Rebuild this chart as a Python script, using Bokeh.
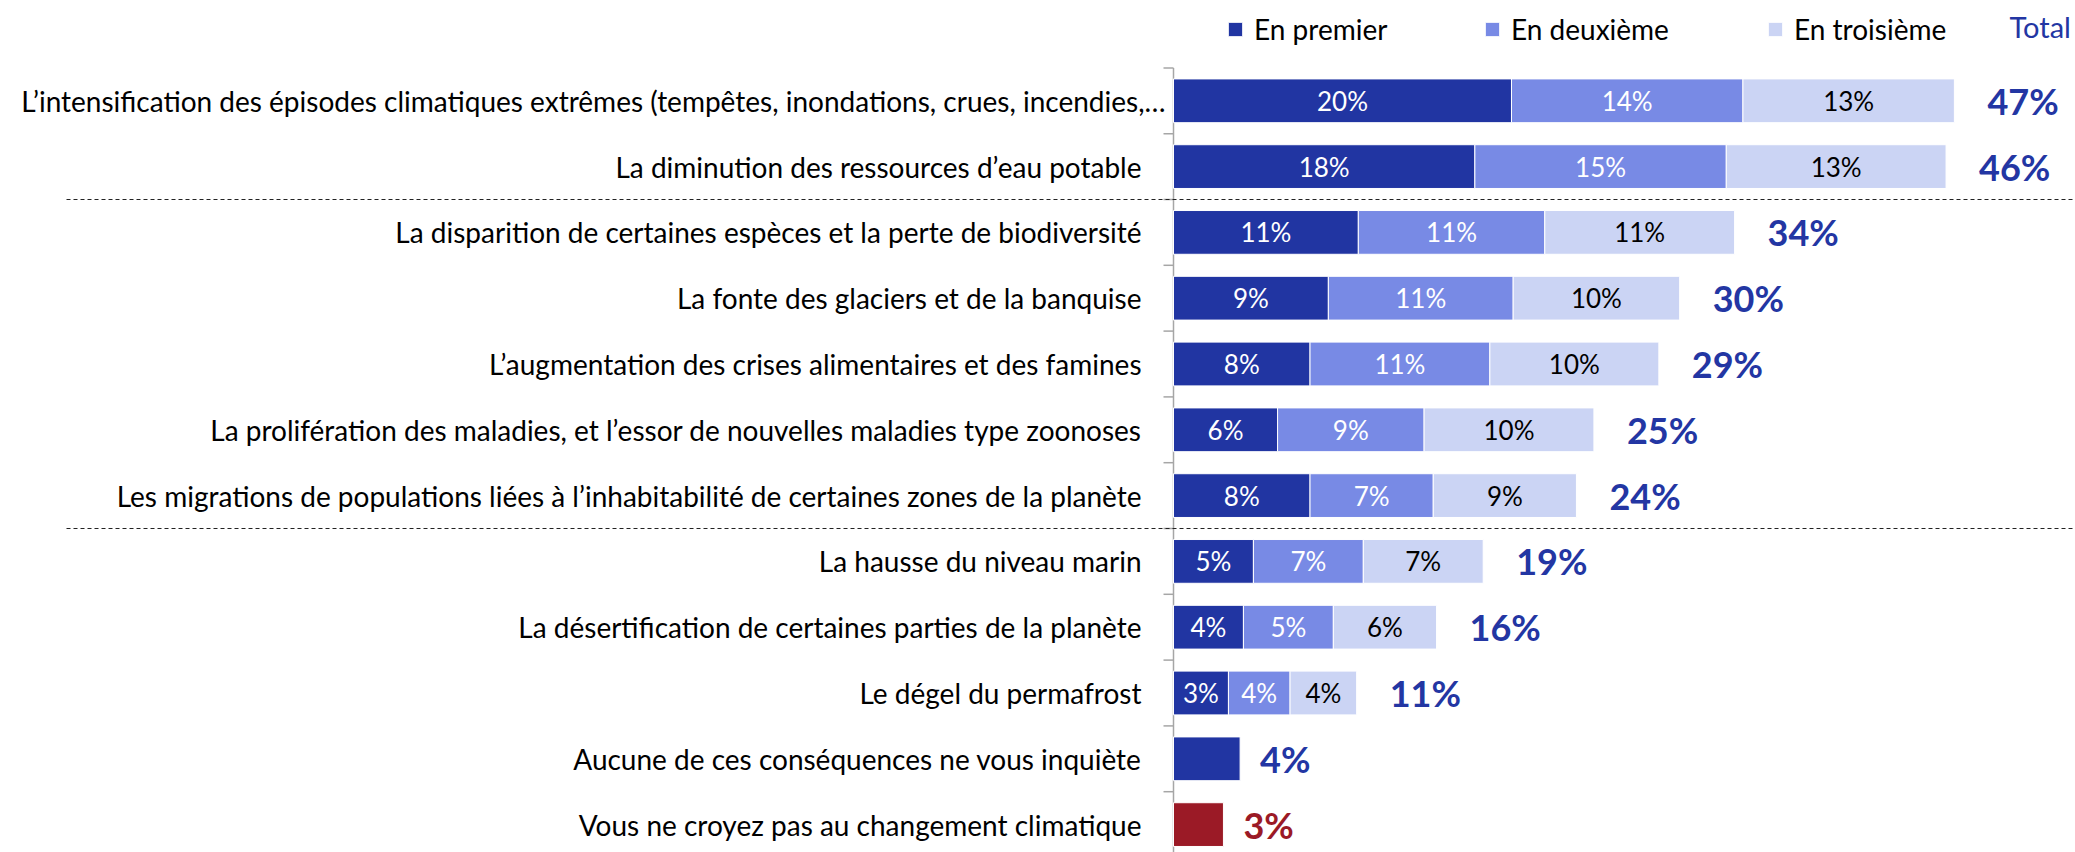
from bokeh.plotting import figure
from bokeh.models import Range1d, ColumnDataSource, Legend, LegendItem, Label
from bokeh.embed import file_html
from bokeh.resources import INLINE
from bokeh.core.properties import value

# ---------------- data ----------------
categories = [
    "L\u2019intensification des épisodes climatiques extrêmes (tempêtes, inondations, crues, incendies,\u2026",
    "La diminution des ressources d\u2019eau potable",
    "La disparition de certaines espèces et la perte de biodiversité",
    "La fonte des glaciers et de la banquise",
    "L\u2019augmentation des crises alimentaires et des famines",
    "La prolifération des maladies, et l\u2019essor de nouvelles maladies type zoonoses",
    "Les migrations de populations liées à l\u2019inhabitabilité de certaines zones de la planète",
    "La hausse du niveau marin",
    "La désertification de certaines parties de la planète",
    "Le dégel du permafrost",
    "Aucune de ces conséquences ne vous inquiète",
    "Vous ne croyez pas au changement climatique",
]
series_names = ["En premier", "En deuxième", "En troisième"]
first = [20.3, 18.1, 11.1, 9.3, 8.2, 6.25, 8.2, 4.8, 4.2, 3.3]
second = [13.9, 15.1, 11.2, 11.1, 10.8, 8.8, 7.4, 6.6, 5.4, 3.7]
third = [12.7, 13.2, 11.4, 10.0, 10.15, 10.2, 8.6, 7.2, 6.2, 4.0]
totals = [47, 46, 34, 30, 29, 25, 24, 19, 16, 11]
single_values = [4.0, 3.0]
single_labels = ["4%", "3%"]
separators_after = [1, 6]
total_title = "Total"

# ---------------- style / layout ----------------
FONT = "Lato"
C1, C2, C3 = "#2135A2", "#788AE5", "#CBD4F4"
RED = "#9B1A26"
TXT_BLUE = "#2336A3"
GREY = "#A6A6A6"

W, H = 2075, 852
AXIS_PX = 1173
PX_PER = 16.65
ROW0_PX = 100.3
ROW_STEP = 65.8
BAR_H = 0.665
LABEL_OFFSETS = [-8] + [-32] * 11

x_start = -AXIS_PX / PX_PER
x_end = (W - AXIS_PX) / PX_PER
y_top = -ROW0_PX / ROW_STEP
y_bottom = (H - ROW0_PX) / ROW_STEP

p = figure(width=W, height=H, x_range=Range1d(x_start, x_end),
           y_range=Range1d(y_bottom, y_top), output_backend="svg",
           toolbar_location=None, min_border=0,
           x_axis_location=None, y_axis_location=None)
p.xgrid.visible = False
p.ygrid.visible = False
p.outline_line_color = None

n = len(first)
ys = list(range(n))
e1 = first
e2 = [a + b for a, b in zip(first, second)]
e3 = [a + b + c for a, b, c in zip(first, second, third)]

# axis line and boundary ticks
ncat = len(categories)
bounds = [i - 0.5 for i in range(ncat + 1)]
p.segment(x0=0, y0=-0.5, x1=0, y1=ncat - 0.5, line_color=GREY, line_width=1.5)
p.segment(x0=[-10 / PX_PER] * len(bounds), x1=[0] * len(bounds), y0=bounds, y1=bounds,
          line_color=GREY, line_width=1.5)

# separators
sep_y = [i + 0.5 for i in separators_after]
p.segment(x0=[(66 - AXIS_PX) / PX_PER] * len(sep_y), x1=[x_end] * len(sep_y),
          y0=sep_y, y1=sep_y, line_color="#222222", line_width=1, line_dash="4 3")

src = ColumnDataSource(dict(y=ys, e1=e1, e2=e2, e3=e3))
r1 = p.hbar(y="y", left=0, right="e1", height=BAR_H, source=src,
            fill_color=C1, line_color="white", line_width=1)
r2 = p.hbar(y="y", left="e1", right="e2", height=BAR_H, source=src,
            fill_color=C2, line_color="white", line_width=1)
r3 = p.hbar(y="y", left="e2", right="e3", height=BAR_H, source=src,
            fill_color=C3, line_color="white", line_width=1)

sy = [n + i for i in range(len(single_values))]
p.hbar(y=sy, left=0, right=single_values, height=BAR_H,
       fill_color=[C1, RED], line_color="white", line_width=1)

# in-bar labels
for starts, vals, col in ((([0] * n), first, "white"), (e1, second, "white"), (e2, third, "black")):
    p.text(x=[s + v / 2 for s, v in zip(starts, vals)], y=ys,
           text=[f"{v:.0f}%" for v in vals], text_align="center", text_baseline="middle",
           text_color=col, text_font=value(FONT), text_font_size="26px")

# totals
p.text(x=e3, y=ys, text=[f"{t}%" for t in totals], x_offset=33,
       text_align="left", text_baseline="middle", text_color=TXT_BLUE,
       text_font=value(FONT), text_font_size="36px", text_font_style="bold")
p.text(x=single_values, y=sy, text=single_labels, x_offset=20,
       text_align="left", text_baseline="middle", text_color=[TXT_BLUE, RED],
       text_font=value(FONT), text_font_size="36px", text_font_style="bold")

# category labels
p.text(x=[0] * ncat, y=list(range(ncat)), text=categories, x_offset=LABEL_OFFSETS,
       text_align="right", text_baseline="middle", text_color="black",
       text_font=value(FONT), text_font_size="28px")

# legend
leg_x = [1226, 1483, 1766]
for name, r, lx in zip(series_names, (r1, r2, r3), leg_x):
    lg = Legend(items=[LegendItem(label=name, renderers=[r])], location=(lx, 806),
                orientation="horizontal", padding=0, margin=0, border_line_color=None,
                background_fill_alpha=0, glyph_width=18, glyph_height=18,
                label_standoff=10, label_height=30, label_text_font=FONT,
                label_text_font_size="28px", label_text_color="black")
    p.add_layout(lg, "center")

p.add_layout(Label(x=2009, y=826, x_units="screen", y_units="screen", text=total_title,
                   text_color=TXT_BLUE, text_font=FONT, text_font_size="29px",
                   text_baseline="middle"))

open("out.html", "w").write(file_html(p, INLINE))
